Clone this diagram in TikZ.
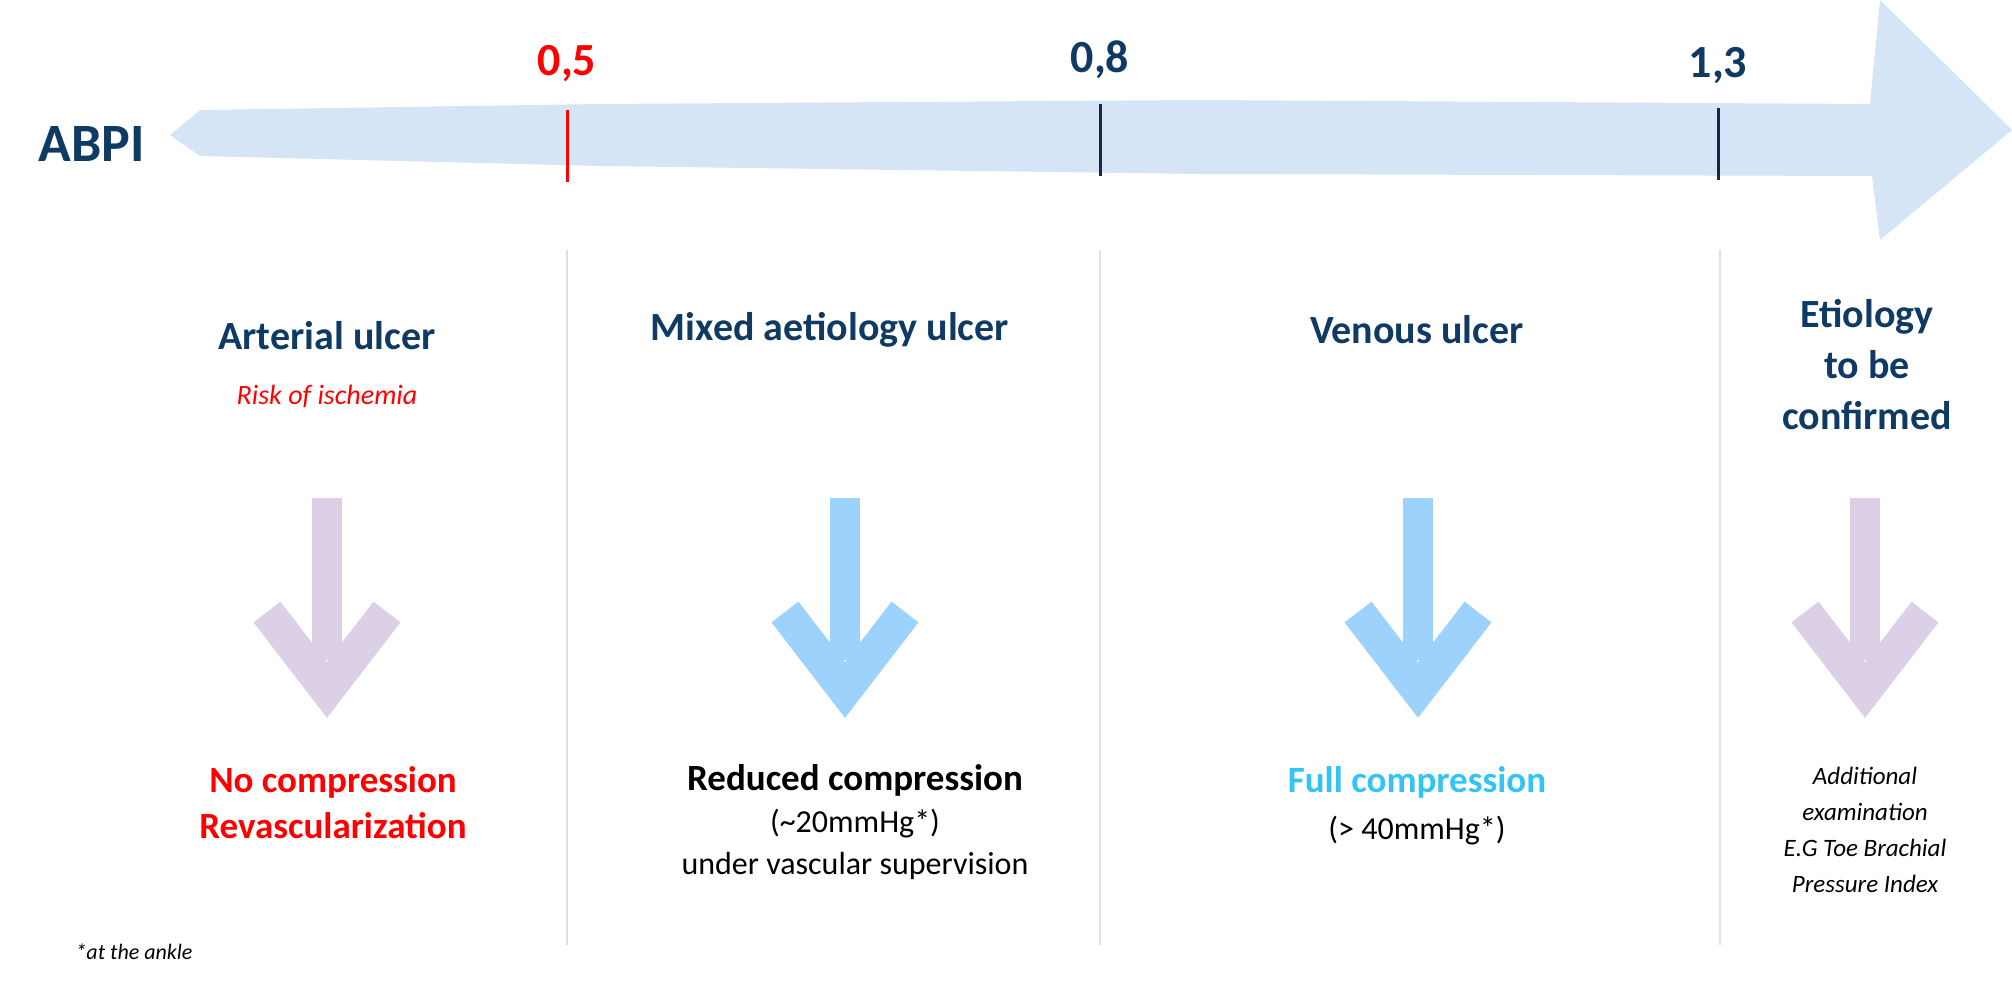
\documentclass[tikz,border=0pt]{standalone}
\usepackage{fontspec}
\setmainfont{Carlito}
\begin{document}
\begin{tikzpicture}[x=1pt,y=-1pt,
  navy/.style={text=abpinavy,font=\bfseries\fontsize{40}{46}\selectfont},
  tick/.style={line width=3pt},
  sep/.style={draw=black!12,line width=1.2pt},
  dn/.style={line width=34pt,line cap=butt,line join=miter}]
\definecolor{abpinavy}{HTML}{0E3A64}
\definecolor{band}{HTML}{D6E5F6}
\definecolor{lilac}{HTML}{DCD0E6}
\definecolor{sky}{HTML}{9DD2FC}
\definecolor{fullc}{HTML}{33C3F5}
\definecolor{tickn}{HTML}{1E2448}
\useasboundingbox (0,0) rectangle (2012,980);
% big arrow
\fill[band] (170,135) -- (200,110) -- (600,104) -- (1200,100) -- (1870,104) -- (1880,0) -- (2012,130)
  -- (1880,240) -- (1872,176) -- (1200,174) -- (600,166) -- (200,156) -- cycle;
\node[navy,font=\bfseries\fontsize{54}{60}\selectfont] (abpi) at (92,144) {ABPI};
% ticks
\draw[tick,red] (567,110) -- (567,182);
\draw[tick,tickn] (1100,104) -- (1100,176);
\draw[tick,tickn] (1718,108) -- (1718,180);
\node[font=\bfseries\fontsize{46}{50}\selectfont,text=red] (t05) at (567,64) {0,5};
\node[navy,font=\bfseries\fontsize{46}{50}\selectfont] (t08) at (1100,60) {0,8};
\node[navy,font=\bfseries\fontsize{46}{50}\selectfont] (t13) at (1718,66) {1,3};
% separators
\draw[sep] (567,250) -- (567,945);
\draw[sep] (1100,250) -- (1100,945);
\draw[sep] (1720,250) -- (1720,945);
% headings
\node[navy] (h1) at (327,336) {Arterial ulcer};
\node[text=red,font=\itshape\fontsize{28}{32}\selectfont] (r1) at (327,396) {Risk of ischemia};
\node[navy] (h2) at (830,330) {Mixed aetiology ulcer};
\node[navy] (h3) at (1417,330) {Venous ulcer};
\node[navy,align=center,font=\bfseries\fontsize{40}{51}\selectfont] (h4) at (1867,365) {Etiology\\to be\\confirmed};
% down arrows
\foreach \cx/\col/\nm in {327/lilac/a1,845/sky/a2,1418/sky/a3,1865/lilac/a4}{
  \draw[dn,\col,line width=30pt] (\cx,498) -- (\cx,660);
  \draw[dn,\col] (\cx-60,612) -- (\cx,690) -- (\cx+60,612);
}
% bottom texts
\node[text=red,align=center,font=\bfseries\fontsize{37}{46}\selectfont] (b1) at (333,803) {No compression\\Revascularization};
\node[align=center,font=\fontsize{32}{42}\selectfont] (b2) at (855,822) {{\bfseries\fontsize{37}{42}\selectfont Reduced compression}\\(\textasciitilde20mmHg*)\\under vascular supervision};
\node[align=center,font=\fontsize{32}{47}\selectfont] (b3) at (1417,806) {{\bfseries\fontsize{37}{42}\selectfont\color{fullc}Full compression}\\(> 40mmHg*)};
\node[align=center,font=\itshape\fontsize{25}{36}\selectfont] (b4) at (1865,830) {Additional\\examination\\E.G Toe Brachial\\Pressure Index};
\node[anchor=west,font=\itshape\fontsize{22}{26}\selectfont] (foot) at (72,952) {*at the ankle};
\end{tikzpicture}
\end{document}
